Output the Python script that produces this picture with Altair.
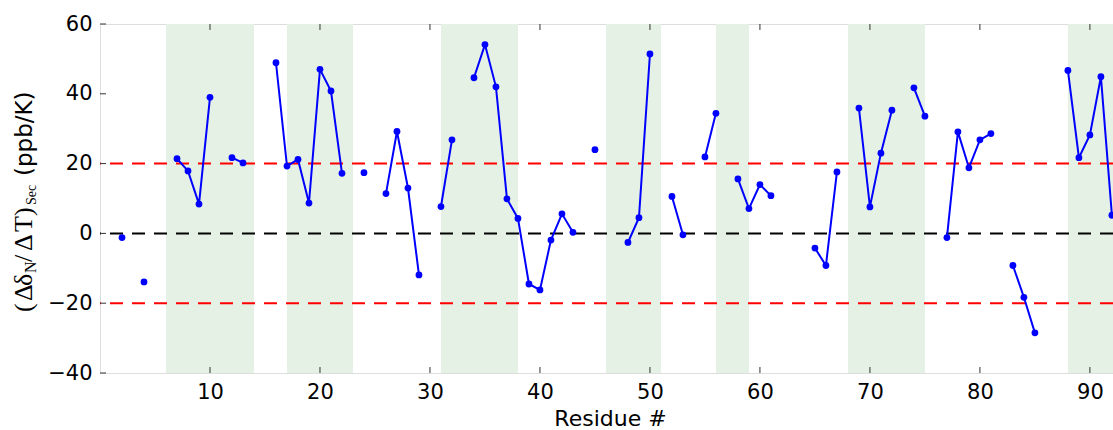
import altair as alt
import pandas as pd

# Residue numbers and secondary temperature coefficients (ppb/K)
residues = [2, 4, 7, 8, 9, 10, 12, 13, 16, 17, 18, 19, 20, 21, 22, 24, 26, 27, 28, 29,
            31, 32, 34, 35, 36, 37, 38, 39, 40, 41, 42, 43, 45, 48, 49, 50, 52, 53,
            55, 56, 58, 59, 60, 61, 65, 66, 67, 69, 70, 71, 72, 74, 75, 77, 78, 79,
            80, 81, 83, 84, 85, 88, 89, 90, 91, 92]
values = [-1.2, -13.9, 21.4, 17.9, 8.4, 39.0, 21.7, 20.2, 48.9, 19.3, 21.2, 8.7, 47.0,
          40.8, 17.2, 17.4, 11.4, 29.2, 13.0, -11.9, 7.7, 26.8, 44.6, 54.1, 42.0, 9.9,
          4.3, -14.5, -16.2, -1.9, 5.6, 0.3, 24.0, -2.6, 4.5, 51.4, 10.6, -0.4, 21.9,
          34.4, 15.6, 7.1, 14.0, 10.8, -4.2, -9.2, 17.6, 35.9, 7.6, 23.0, 35.3, 41.7,
          33.6, -1.2, 29.1, 18.8, 26.8, 28.6, -9.2, -18.3, -28.5, 46.7, 21.7, 28.2,
          44.9, 5.2]

# Shaded secondary-structure regions (residue ranges)
band_starts = [6, 17, 31, 46, 56, 68, 88]
band_ends = [14, 23, 38, 51, 59, 75, 95]

# Reference levels
threshold_values = [20, -20]
zero_value = [0]

# Axis tick positions
x_ticks = [10, 20, 30, 40, 50, 60, 70, 80, 90]
y_ticks = [-40, -20, 0, 20, 40, 60]

W, H = 1013, 349
X_DOMAIN = [0, 92.1]
Y_DOMAIN = [-40, 60]

# Break the line wherever residues are not consecutive
segments = []
seg = 0
for i, r in enumerate(residues):
    if i > 0 and r - residues[i - 1] != 1:
        seg += 1
    segments.append(seg)

df = pd.DataFrame({"residue": residues, "value": values, "segment": segments})
bands = pd.DataFrame({"start": band_starts, "end": band_ends})

xscale = alt.Scale(domain=X_DOMAIN, nice=False, zero=False)
yscale = alt.Scale(domain=Y_DOMAIN, nice=False, zero=False)

x_axis = alt.Axis(values=x_ticks, grid=False, ticks=False, domain=False,
                  labelFont="DejaVu Sans", labelFontSize=21, labelColor="black",
                  labelPadding=8, title="Residue #", titleFont="DejaVu Sans",
                  titleFontSize=22, titleFontWeight="normal", titleColor="black",
                  titleX=510, titleY=52, titleAlign="center",
                  titleBaseline="alphabetic")
y_axis = alt.Axis(values=y_ticks, grid=False, ticks=False, domain=False,
                  labelFont="DejaVu Sans", labelFontSize=21, labelColor="black",
                  labelPadding=8, title="")

band_layer = alt.Chart(bands).mark_rect(color="#e5f1e5", clip=True).encode(
    x=alt.X("start:Q", scale=xscale, axis=x_axis),
    x2="end:Q",
    y=alt.value(0),
    y2=alt.value(H),
)

thr_layer = alt.Chart(pd.DataFrame({"v": threshold_values})).mark_rule(
    color="#ff0000", strokeWidth=2, strokeDash=[13, 9]
).encode(y=alt.Y("v:Q", scale=yscale, axis=y_axis))

zero_layer = alt.Chart(pd.DataFrame({"v": zero_value})).mark_rule(
    color="black", strokeWidth=2, strokeDash=[13, 9]
).encode(y=alt.Y("v:Q", scale=yscale))

line_layer = alt.Chart(df).mark_line(color="#0000ff", strokeWidth=2, clip=True).encode(
    x=alt.X("residue:Q", scale=xscale),
    y=alt.Y("value:Q", scale=yscale),
    detail="segment:N",
)

point_layer = alt.Chart(df).mark_circle(color="#0000ff", size=46, opacity=1,
                                        clip=True).encode(
    x=alt.X("residue:Q", scale=xscale),
    y=alt.Y("value:Q", scale=yscale),
)

# Inward-pointing tick marks on the frame
tick_color = "#333333"
xt = pd.DataFrame({"t": x_ticks})
yt = pd.DataFrame({"t": y_ticks})
xtick_bottom = alt.Chart(xt).mark_rule(color=tick_color, strokeWidth=1).encode(
    x=alt.X("t:Q", scale=xscale), y=alt.value(H), y2=alt.value(H - 6))
xtick_top = alt.Chart(xt).mark_rule(color=tick_color, strokeWidth=1).encode(
    x=alt.X("t:Q", scale=xscale), y=alt.value(0), y2=alt.value(6))
ytick_left = alt.Chart(yt).mark_rule(color=tick_color, strokeWidth=1).encode(
    y=alt.Y("t:Q", scale=yscale), x=alt.value(0), x2=alt.value(6))

# Rotated y-axis title built from pieces so the subscripts sit lower
SERIF = "Liberation Serif"
title_pieces = [
    ("(", SERIF, 26, 288, -68),
    ("Δ", SERIF, 26, 277, -68),
    ("δ", SERIF, 26, 262, -68),
    ("N", SERIF, 16, 249, -64),
    ("/", SERIF, 26, 238, -68),
    ("Δ", SERIF, 26, 227, -68),
    ("T", SERIF, 26, 208, -68),
    (")", SERIF, 26, 192, -68),
    ("Sec", SERIF, 14, 181, -64),
    ("(ppb/K)", "DejaVu Sans", 23, 152, -68),
]
title_layers = []
for txt, font, size, ypos, xpos in title_pieces:
    title_layers.append(
        alt.Chart(pd.DataFrame({"s": [txt]})).mark_text(
            font=font, fontSize=size, angle=270, align="left",
            baseline="alphabetic", color="black"
        ).encode(text="s:N", x=alt.value(xpos), y=alt.value(ypos))
    )

chart = alt.layer(
    band_layer, thr_layer, zero_layer, line_layer, point_layer,
    xtick_bottom, xtick_top, ytick_left, *title_layers
).properties(
    width=W, height=H,
    autosize=alt.AutoSizeParams(type="none"),
    padding={"left": 100, "top": 24, "right": 0, "bottom": 57},
).configure_view(
    stroke="black", strokeWidth=1.6
).configure(background="white")

chart.save("out.html", embed_options={"renderer": "svg", "actions": False})
